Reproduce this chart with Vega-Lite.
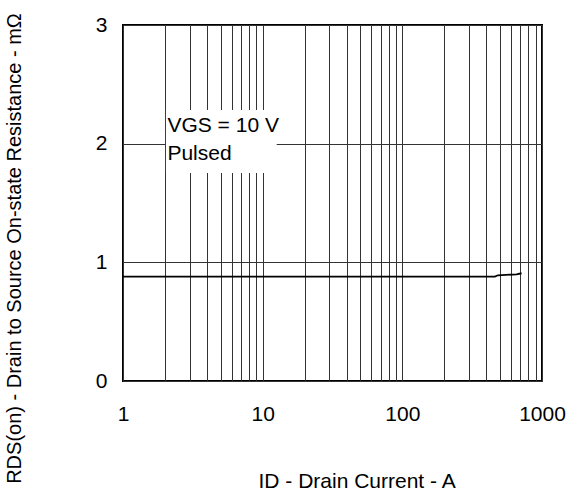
{
  "$schema": "https://vega.github.io/schema/vega-lite/v6.json",
  "width": 419,
  "height": 356,
  "autosize": {"type": "none"},
  "padding": {"left": 123, "top": 25, "right": 25, "bottom": 111},
  "background": "white",
  "config": {
    "font": "Liberation Sans",
    "view": {"stroke": "#000", "strokeWidth": 2},
    "axis": {
      "grid": true,
      "gridColor": "#333",
      "gridWidth": 1,
      "gridOpacity": 1,
      "domain": false,
      "ticks": false,
      "tickSize": 0,
      "labelFont": "Liberation Sans",
      "labelFontSize": 21,
      "labelColor": "#000",
      "labelOverlap": false,
      "labelFlush": false,
      "titleFont": "Liberation Sans",
      "titleFontWeight": "normal",
      "titleColor": "#000"
    }
  },
  "layer": [
    {
      "data": {
        "values": [
          {"current": 1, "resistance": 0.88},
          {"current": 2, "resistance": 0.88},
          {"current": 5, "resistance": 0.88},
          {"current": 10, "resistance": 0.88},
          {"current": 20, "resistance": 0.88},
          {"current": 50, "resistance": 0.88},
          {"current": 100, "resistance": 0.88},
          {"current": 200, "resistance": 0.88},
          {"current": 400, "resistance": 0.88},
          {"current": 460, "resistance": 0.88},
          {"current": 483, "resistance": 0.891},
          {"current": 658, "resistance": 0.899},
          {"current": 714, "resistance": 0.908}
        ]
      },
      "mark": {"type": "line", "color": "#000", "strokeWidth": 1.8},
      "encoding": {
        "x": {
          "field": "current",
          "type": "quantitative",
          "scale": {"type": "log", "domain": [1, 1000], "nice": false},
          "axis": {
            "title": "ID - Drain Current - A",
            "values": [1, 2, 3, 4, 5, 6, 7, 8, 9, 10, 20, 30, 40, 50, 60, 70, 80, 90, 100, 200, 300, 400, 500, 600, 700, 800, 900, 1000],
            "format": "d",
            "labelExpr": "(datum.value == 1 || datum.value == 10 || datum.value == 100 || datum.value == 1000) ? datum.label : ''",
            "labelBaseline": "top",
            "labelPadding": 22,
            "titleFontSize": 21,
            "titleX": 135,
            "titleY": 106,
            "titleAlign": "left",
            "titleBaseline": "alphabetic"
          }
        },
        "y": {
          "field": "resistance",
          "type": "quantitative",
          "scale": {"domain": [0, 3], "nice": false, "zero": true},
          "axis": {
            "title": "RDS(on) - Drain to Source On-state Resistance - mΩ",
            "values": [0, 0.5, 1, 1.5, 2, 2.5, 3],
            "format": "d",
            "labelExpr": "datum.value % 1 == 0 ? datum.label : ''",
            "labelPadding": 16,
            "labelBaseline": "middle",
            "titleFontSize": 20,
            "titleAngle": -90,
            "titleX": -103,
            "titleY": 223,
            "titleAlign": "center",
            "titleBaseline": "alphabetic"
          }
        }
      }
    },
    {
      "data": {"values": [{"note": "legend box"}]},
      "mark": {"type": "rect", "fill": "white"},
      "encoding": {
        "x": {"datum": 2.03, "type": "quantitative"},
        "x2": {"datum": 12.6},
        "y": {"datum": 1.753, "type": "quantitative"},
        "y2": {"datum": 2.284}
      }
    },
    {
      "data": {"values": [{"label": "VGS = 10 V"}]},
      "mark": {"type": "text", "align": "left", "baseline": "alphabetic", "fontSize": 21, "fontWeight": "normal", "color": "#000", "font": "Liberation Sans"},
      "encoding": {
        "x": {"datum": 2.08, "type": "quantitative"},
        "y": {"datum": 2.1, "type": "quantitative"},
        "text": {"field": "label"}
      }
    },
    {
      "data": {"values": [{"label": "Pulsed"}]},
      "mark": {"type": "text", "align": "left", "baseline": "alphabetic", "fontSize": 21, "fontWeight": "normal", "color": "#000", "font": "Liberation Sans"},
      "encoding": {
        "x": {"datum": 2.08, "type": "quantitative"},
        "y": {"datum": 1.862, "type": "quantitative"},
        "text": {"field": "label"}
      }
    }
  ]
}
